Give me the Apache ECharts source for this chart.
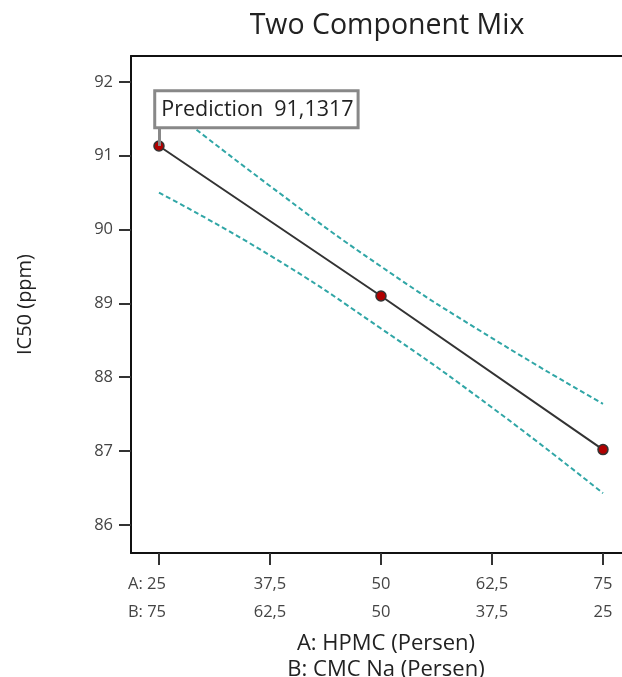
<!DOCTYPE html>
<html><head><meta charset="utf-8">
<script src="https://cdn.jsdelivr.net/npm/echarts@6/dist/echarts.min.js"></script>
<style>html,body{margin:0;padding:0;background:#fff}#c{width:622px;height:677px}</style>
</head><body><div id="c"></div>
<script>
var xTicks = [25, 37.5, 50, 62.5, 75];
var labelsA = ['A: 25', '37,5', '50', '62,5', '75'];
var labelsB = ['B: 75', '62,5', '50', '37,5', '25'];
var yTicks = [86, 87, 88, 89, 90, 91, 92];
var designX = [25, 50, 75];
var predicted = [91.1317, 89.10, 87.02];
var bandX = [25, 37.5, 50, 62.5, 75];
var upperBand = [91.75, 90.59, 89.50, 88.53, 87.64];
var lowerBand = [90.50, 89.65, 88.66, 87.59, 86.43];
var predictionText = 'Prediction  91,1317';

function zip(a, b) { return a.map(function (v, i) { return [v, b[i]]; }); }

var font = 'Open Sans';
var chart = echarts.init(document.getElementById('c'), null, {renderer: 'canvas'});
var fitData = zip(designX, predicted);
fitData[0] = {
  value: fitData[0],
  label: {
    show: true, formatter: predictionText, position: [3, -48],
    fontFamily: font, fontSize: 21.5, color: '#222', lineHeight: 27,
    backgroundColor: '#fff', borderColor: '#888', borderWidth: 3,
    padding: [4, 3, 3, 5]
  }
};
chart.setOption({
  animation: false,
  backgroundColor: '#fff',
  title: {text: 'Two Component Mix', left: 382, top: 6, textAlign: 'center',
    textStyle: {fontFamily: font, fontSize: 28.5, fontWeight: 'normal', color: '#222'}},
  grid: {left: 131, top: 56, right: -19, bottom: 124, outerBoundsMode: 'none'},
  xAxis: [{
    type: 'value', min: 21.85, max: 79.28,
    name: 'A: HPMC (Persen)\nB: CMC Na (Persen)', nameLocation: 'middle', nameGap: 69,
    nameTextStyle: {fontFamily: font, fontSize: 22, color: '#222', lineHeight: 26, verticalAlign: 'top'},
    axisLine: {show: true, onZero: false, lineStyle: {color: '#111', width: 2}},
    axisTick: {show: true, customValues: xTicks, length: 12, lineStyle: {color: '#333', width: 2}},
    axisLabel: {customValues: xTicks, margin: 17, fontFamily: font, fontSize: 16.5, color: '#444', lineHeight: 28,
      formatter: function (v) {
        var i = xTicks.indexOf(v);
        if (i === 0) return '{f|' + labelsA[i] + '}\n{f|' + labelsB[i] + '}';
        return labelsA[i] + '\n' + labelsB[i];
      },
      rich: {f: {padding: [0, 24, 0, 0], fontFamily: font, fontSize: 16.5, color: '#444', lineHeight: 28}}
    },
    splitLine: {show: false}
  }, {
    type: 'value', position: 'top', min: 21.85, max: 79.28,
    axisLine: {show: true, lineStyle: {color: '#111', width: 2}},
    axisTick: {show: false}, axisLabel: {show: false}, splitLine: {show: false}
  }],
  yAxis: {
    type: 'value', min: 85.62, max: 92.35,
    name: 'IC50 (ppm)', nameLocation: 'middle', nameGap: 96, nameRotate: 90,
    nameTextStyle: {fontFamily: font, fontSize: 20, color: '#222'},
    axisLine: {show: true, onZero: false, lineStyle: {color: '#111', width: 2}},
    axisTick: {show: true, customValues: yTicks, length: 12, lineStyle: {color: '#333', width: 2}},
    axisLabel: {customValues: yTicks, margin: 18, fontFamily: font, fontSize: 16.5, color: '#444'},
    splitLine: {show: false}
  },
  series: [{
    type: 'line', data: zip(bandX, upperBand), smooth: true, symbol: 'none',
    lineStyle: {color: '#30a6a6', width: 2, type: [5, 3]}, z: 2
  }, {
    type: 'line', data: zip(bandX, lowerBand), smooth: true, symbol: 'none',
    lineStyle: {color: '#30a6a6', width: 2, type: [5, 3]}, z: 2
  }, {
    type: 'line', data: fitData, symbol: 'circle', symbolSize: 10,
    lineStyle: {color: '#333', width: 2},
    itemStyle: {color: '#b00000', borderColor: '#333', borderWidth: 1.5}, z: 4,
    markLine: {
      silent: true, symbol: 'none', animation: false,
      lineStyle: {color: '#888', width: 3, type: 'solid'},
      label: {show: false},
      data: [[{coord: [25, 91.1317]}, {coord: [25, 91.37]}]]
    }
  }]
});
</script></body></html>
